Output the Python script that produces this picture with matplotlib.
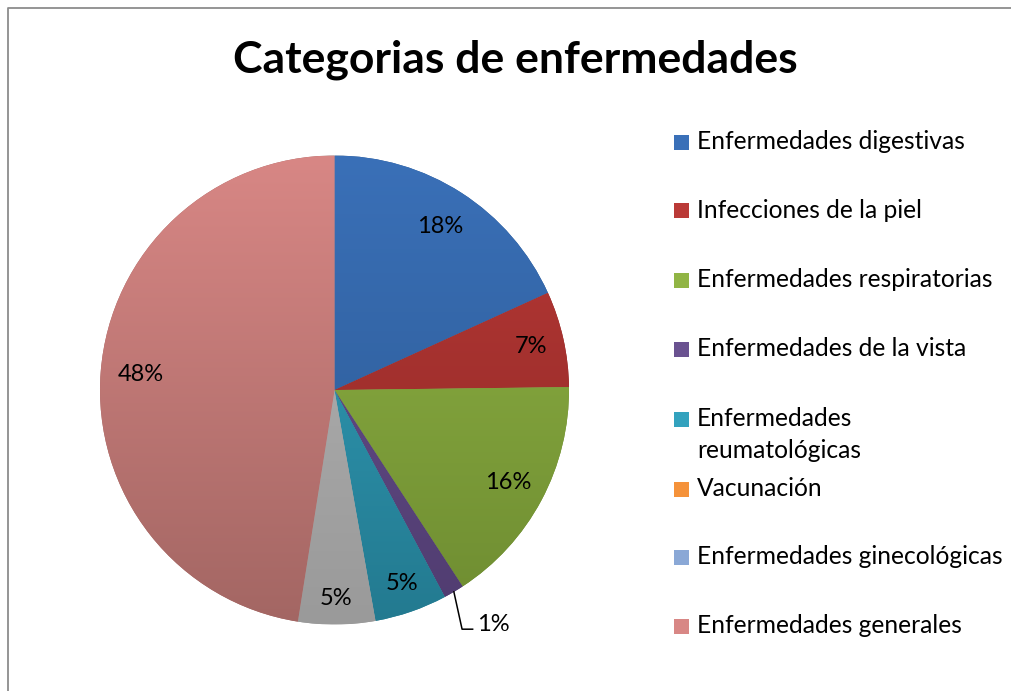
import numpy as np
import matplotlib.pyplot as plt
from matplotlib.colors import LinearSegmentedColormap
from matplotlib.patches import Rectangle
from matplotlib.lines import Line2D

plt.rcParams['font.family'] = ['Lato', 'DejaVu Sans']

# data (percent shares, clockwise from 12 o'clock)
categories = ["Enfermedades digestivas", "Infecciones de la piel",
              "Enfermedades respiratorias", "Enfermedades de la vista",
              "Enfermedades\nreumatológicas", "Vacunación",
              "Enfermedades ginecológicas", "", "Enfermedades generales"]
shares = [18.2, 6.6, 16.0, 1.4, 5.0, 0.0, 0.0, 5.3, 47.5]
# (light top, dark bottom) for the Excel-style gradient
colors = [("#3A70B8", "#2B5890"), ("#BA3A37", "#8A2624"),
          ("#91B545", "#6E8C31"), ("#6A5290", "#503C70"),
          ("#33A2BE", "#237A90"), ("#F5923A", "#C8681C"),
          ("#8AA8D6", "#6A88B4"), ("#B4B4B4", "#9A9A9A"),
          ("#D88785", "#A36663")]
legend_y = [142, 211, 280, 349, 419, 489, 557, 626]   # px from top

W, H = 1011, 691
fig = plt.figure(figsize=(W / 100, H / 100), dpi=100)

# outer chart frame (only top and left edges are inside the picture)
fx, fy = 8 / W, 1 - 7.5 / H
fig.add_artist(Line2D([fx, fx, 1.0], [0.0, fy, fy], transform=fig.transFigure,
                      color="#8C8C8C", linewidth=1.3))

cx, cy, r = 334.5, 390, 234.5
ax = fig.add_axes([(cx - r) / W, (H - cy - r) / H, 2 * r / W, 2 * r / H])

wedges, _ = ax.pie(shares, startangle=90, counterclock=False, radius=1,
                   colors=[c[1] for c in colors],
                   wedgeprops=dict(linewidth=0, clip_on=False))

# vertical gradient clipped to each wedge
grad = np.linspace(0, 1, 256).reshape(-1, 1)
for w, (c1, c2) in zip(wedges, colors):
    cmap = LinearSegmentedColormap.from_list("g", [c1, c2])
    im = ax.imshow(grad, cmap=cmap, extent=(-1, 1, -1, 1), aspect="auto",
                   origin="upper", zorder=w.get_zorder() + 0.1)
    im.set_clip_path(w)
ax.set_xlim(-1, 1)
ax.set_ylim(-1, 1)
ax.set_aspect("auto")
ax.axis("off")

# percentage labels
label_r = [0.83, 0.86, 0.84, None, 0.875, None, None, 0.89, 0.83]
total = sum(shares)
start = 0.0
for i, s in enumerate(shares):
    mid = np.deg2rad((start + s / 2) / total * 360)
    start += s
    if s == 0:
        continue
    txt = f"{round(s / total * 100):.0f}%"
    sx, sy = np.sin(mid), np.cos(mid)
    if label_r[i] is None:
        # small slice: label outside with leader line
        ax.plot([sx, sx + 0.035, sx + 0.08], [sy, -1.02, -1.02],
                color="black", lw=1.1, clip_on=False)
        ax.text(sx + 0.1, -1.0, txt, fontsize=17, ha="left", va="center")
    else:
        ax.text(label_r[i] * sx, label_r[i] * sy, txt, fontsize=17,
                ha="center", va="center")

fig.text(515 / W, 1 - 60 / H, "Categorias de enfermedades", fontsize=32,
         fontweight="bold", ha="center", va="center")

# legend
names = [c for c in categories if c]
for name, y in zip(names, legend_y):
    idx = categories.index(name)
    fig.patches.append(Rectangle((674 / W, 1 - (y + 7.5) / H), 15 / W, 15 / H,
                                 transform=fig.transFigure,
                                 facecolor=colors[idx][0], edgecolor="none"))
    fig.text(697 / W, 1 - (y - 12) / H, name, fontsize=17.7, ha="left", va="top",
             linespacing=1.45)

fig.savefig("out.png", dpi=100)
